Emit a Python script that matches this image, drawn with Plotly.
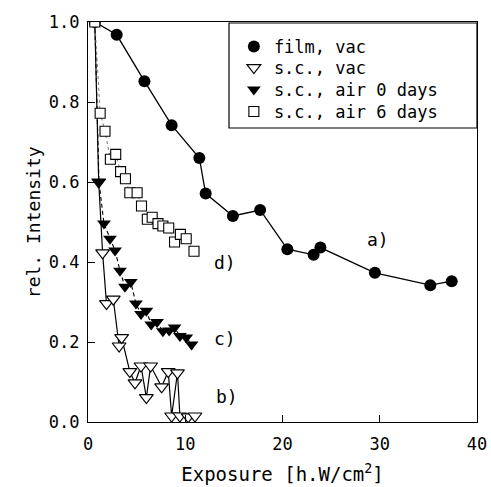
import plotly.graph_objects as go

# film, vac (filled circles)
film_x = [0.7, 2.95, 5.8, 8.6, 11.45, 12.1, 14.9, 17.7, 20.5, 23.2, 23.9, 29.5, 35.2, 37.4]
film_y = [1.0, 0.968, 0.852, 0.742, 0.66, 0.571, 0.515, 0.53, 0.432, 0.418, 0.436, 0.373, 0.342, 0.352]

# s.c., vac (open down triangles)
scvac_x = [0.7, 1.1, 1.5, 1.9, 2.6, 3.2, 3.46, 4.3, 4.83, 5.45, 6.0, 6.44, 7.57, 8.25, 8.6, 9.2, 9.45, 10.3, 11.0]
scvac_y = [1.0, 0.6, 0.423, 0.296, 0.307, 0.19, 0.211, 0.126, 0.098, 0.14, 0.061, 0.14, 0.088, 0.126, 0.015, 0.123, 0.015, 0.013, 0.015]

# s.c., air 0 days (filled down triangles)
air0_x = [0.7, 1.13, 1.64, 2.26, 2.78, 3.29, 3.8, 4.4, 4.93, 5.45, 6.0, 6.5, 7.1, 7.7, 8.35, 8.9, 9.45, 10.1, 10.65]
air0_y = [1.0, 0.6, 0.496, 0.458, 0.429, 0.378, 0.338, 0.35, 0.296, 0.27, 0.278, 0.244, 0.25, 0.227, 0.229, 0.236, 0.215, 0.211, 0.194]

# s.c., air 6 days (open squares)
air6_x = [0.7, 1.25, 1.75, 2.3, 2.85, 3.35, 3.85, 4.3, 5.05, 5.5, 6.1, 6.6, 7.2, 7.7, 8.3, 8.9, 9.5, 10.1, 10.9]
air6_y = [1.0, 0.772, 0.727, 0.657, 0.669, 0.626, 0.608, 0.573, 0.573, 0.54, 0.507, 0.512, 0.496, 0.49, 0.485, 0.45, 0.469, 0.458, 0.427]

series_names = ["film, vac", "s.c., vac", "s.c., air 0 days", "s.c., air 6 days"]

x_ticks = [0, 10, 20, 30, 40]
y_ticks = [0.0, 0.2, 0.4, 0.6, 0.8, 1.0]

labels_text = ["a)", "b)", "c)", "d)"]
labels_x = [29.8, 14.25, 14.1, 14.1]
labels_y = [0.457, 0.065, 0.21, 0.40]

FONT = "DejaVu Sans Mono"
fig = go.Figure()

# connecting lines
fig.add_trace(go.Scatter(x=film_x, y=film_y, mode="lines", line=dict(color="black", width=1.3), showlegend=False, hoverinfo="skip"))
fig.add_trace(go.Scatter(x=scvac_x, y=scvac_y, mode="lines", line=dict(color="black", width=1.2), showlegend=False, hoverinfo="skip"))
fig.add_trace(go.Scatter(x=air0_x, y=air0_y, mode="lines", line=dict(color="black", width=1.1, dash="4px,3px"), showlegend=False, hoverinfo="skip"))
fig.add_trace(go.Scatter(x=air6_x, y=air6_y, mode="lines", line=dict(color="#555", width=0.8, dash="3px,3px"), showlegend=False, hoverinfo="skip"))

# markers
fig.add_trace(go.Scatter(x=film_x, y=film_y, mode="markers", name=series_names[0], legend="legend",
                         marker=dict(symbol="circle", size=12, color="black")))
fig.add_trace(go.Scatter(x=scvac_x, y=scvac_y, mode="markers", name=series_names[1], legend="legend2",
                         marker=dict(symbol="triangle-down", size=12, color="white", line=dict(color="black", width=1.2))))
fig.add_trace(go.Scatter(x=air0_x, y=air0_y, mode="markers", name=series_names[2], legend="legend3",
                         marker=dict(symbol="triangle-down", size=12, color="black")))
fig.add_trace(go.Scatter(x=air6_x, y=air6_y, mode="markers", name=series_names[3], legend="legend4",
                         marker=dict(symbol="square", size=10, color="white", line=dict(color="black", width=1.1))))

for t, x, y in zip(labels_text, labels_x, labels_y):
    fig.add_annotation(x=x, y=y, text=t, showarrow=False, font=dict(family=FONT, size=18, color="black"))

# y-axis title
fig.add_annotation(xref="paper", yref="paper", x=-0.141, y=0.5, text="rel. Intensity", textangle=-90,
                   showarrow=False, xanchor="center", yanchor="middle", font=dict(family=FONT, size=18, color="black"))

# legend box
fig.add_shape(type="rect", xref="paper", yref="paper", x0=0.3625, x1=1.0, y0=0.735, y1=0.9975,
              line=dict(color="black", width=1.2), fillcolor="rgba(0,0,0,0)")

def leg(yc):
    return dict(x=0.375, y=yc, xanchor="left", yanchor="middle", bgcolor="rgba(0,0,0,0)",
                borderwidth=0, font=dict(family=FONT, size=17))

fig.update_layout(
    width=491, height=487,
    margin=dict(l=88, r=14, t=22, b=65, autoexpand=False),
    paper_bgcolor="white", plot_bgcolor="white",
    font=dict(family=FONT, size=17, color="black"),
    legend=leg(0.9375), legend2=leg(0.885), legend3=leg(0.83), legend4=leg(0.775),
)
fig.update_xaxes(range=[0, 40], tickvals=x_ticks, ticks="inside", ticklen=7, tickcolor="black",
                 showline=True, linecolor="black", linewidth=1.3, mirror=True, showgrid=False, zeroline=False,
                 tickfont=dict(family=FONT, size=17), ticklabelstandoff=6, automargin=False,
                 title=dict(text="Exposure [h.W/cm<sup>2</sup>]", font=dict(family=FONT, size=19)))
fig.update_yaxes(range=[0, 1.0], tickvals=y_ticks, tickformat=".1f", ticks="inside", ticklen=7, tickcolor="black",
                 showline=True, linecolor="black", linewidth=1.3, mirror=True, showgrid=False, zeroline=False,
                 tickfont=dict(family=FONT, size=17), ticklabelstandoff=4, automargin=False)

fig.write_html("out.html")
